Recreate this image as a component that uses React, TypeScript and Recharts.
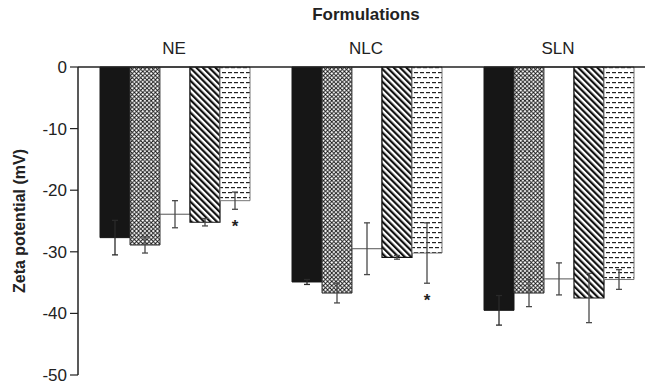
import { BarChart, Bar, XAxis, YAxis, ErrorBar, LabelList } from 'recharts';

const categories = ['NE', 'NLC', 'SLN'];

const solidValues = [-27.7, -34.9, -39.5];
const solidErr = [2.8, 0.4, 2.4];
const crossValues = [-28.9, -36.7, -36.7];
const crossErr = [1.3, 1.6, 2.2];
const plainValues = [-23.9, -29.5, -34.4];
const plainErr = [2.2, 4.2, 2.6];
const stripeValues = [-25.2, -30.9, -37.5];
const stripeErr = [0.6, 0.3, 4.0];
const dashValues = [-21.7, -30.2, -34.5];
const dashErr = [1.4, 4.9, 1.6];
const significant = [true, true, false];

const yTicks = [0, -10, -20, -30, -40, -50];

const data = categories.map((name, i) => ({
    name,
    solid: solidValues[i],
    solidErr: solidErr[i],
    cross: crossValues[i],
    crossErr: crossErr[i],
    plain: plainValues[i],
    plainErr: plainErr[i],
    stripe: stripeValues[i],
    stripeErr: stripeErr[i],
    dash: dashValues[i],
    dashErr: dashErr[i],
    sig: significant[i],
}));

const font = 'Liberation Sans, Arial, sans-serif';

// asterisk under the error bar of the dashed series
const StarLabel = (props: any) => {
    const { x, y, width, height, index } = props;
    const row = data[index];
    if (!row || !row.sig) return null;
    const h = Math.abs(height);
    const top = Math.min(y, y + height);
    const perUnit = h / Math.abs(row.dash);
    const errEnd = top + (Math.abs(row.dash) + row.dashErr) * perUnit;
    return (
        <text x={x + width / 2} y={errEnd + 23} textAnchor="middle" fontSize={17} fontWeight="bold" fontFamily={font} fill="#222">
            *
        </text>
    );
};

const errStyle = { stroke: '#4a4a4a', strokeWidth: 1.3 };

export default function App() {
    return (
        <div style={{ position: 'absolute', left: 0, top: 0, width: 645, height: 385, overflow: 'hidden', background: '#fff' }}>
            <BarChart
                width={654}
                height={385}
                data={data}
                margin={{ top: 0, right: 0, left: 0, bottom: 10 }}
                barCategoryGap={22}
                barGap={0}
            >
                <defs>
                    <pattern id="cross" width="4.2" height="4.2" patternUnits="userSpaceOnUse">
                        <rect width="4.2" height="4.2" fill="#fff" />
                        <path d="M0,0 L4.2,4.2 M4.2,0 L0,4.2" stroke="#111" strokeWidth="0.9" />
                    </pattern>
                    <pattern id="stripe" width="4.5" height="4.5" patternUnits="userSpaceOnUse" patternTransform="rotate(-45)">
                        <rect width="4.5" height="4.5" fill="#fff" />
                        <rect width="2.2" height="4.5" fill="#111" />
                    </pattern>
                    <pattern id="dash" width="6" height="10" patternUnits="userSpaceOnUse">
                        <rect width="6" height="10" fill="#fff" />
                        <rect x="0" y="2" width="4" height="1.2" fill="#222" />
                        <rect x="3" y="7" width="3" height="1.2" fill="#222" />
                        <rect x="0" y="7" width="1" height="1.2" fill="#222" />
                    </pattern>
                </defs>
                <XAxis
                    dataKey="name"
                    orientation="top"
                    height={67}
                    axisLine={{ stroke: '#222', strokeWidth: 1.5 }}
                    tickLine={false}
                    tickSize={6}
                    tickMargin={7}
                    tick={{ fill: '#222', fontSize: 17, fontFamily: font }}
                    label={{ value: 'Formulations', position: 'insideTop', offset: 8, fill: '#222', fontSize: 17, fontWeight: 'bold', fontFamily: font }}
                />
                <YAxis
                    width={78}
                    domain={[-50, 0]}
                    ticks={yTicks}
                    interval={0}
                    axisLine={{ stroke: '#222', strokeWidth: 1.5 }}
                    tickLine={{ stroke: '#222', strokeWidth: 1.2 }}
                    tickSize={8}
                    tickMargin={3}
                    tick={{ fill: '#222', fontSize: 17, fontFamily: font }}
                    label={{ value: 'Zeta potential (mV)', angle: -90, position: 'insideLeft', offset: 19, style: { textAnchor: 'middle' }, fill: '#222', fontSize: 16, fontWeight: 'bold', fontFamily: font }}
                />
                <Bar dataKey="solid" fill="#161616" stroke="#161616" isAnimationActive={false}>
                    <ErrorBar dataKey="solidErr" width={3} stroke="#2a2a2a" strokeWidth={1.3} />
                </Bar>
                <Bar dataKey="cross" fill="url(#cross)" stroke="#333" strokeWidth={1} isAnimationActive={false}>
                    <ErrorBar dataKey="crossErr" width={3} {...errStyle} />
                </Bar>
                <Bar dataKey="plain" fill="#fff" stroke="#555" strokeWidth={1} isAnimationActive={false}>
                    <ErrorBar dataKey="plainErr" width={3} {...errStyle} />
                </Bar>
                <Bar dataKey="stripe" fill="url(#stripe)" stroke="#111" strokeWidth={1.2} isAnimationActive={false}>
                    <ErrorBar dataKey="stripeErr" width={3} {...errStyle} />
                </Bar>
                <Bar dataKey="dash" fill="url(#dash)" stroke="#777" strokeWidth={1} isAnimationActive={false}>
                    <ErrorBar dataKey="dashErr" width={3} {...errStyle} />
                    <LabelList dataKey="dash" content={StarLabel} />
                </Bar>
            </BarChart>
        </div>
    );
}
